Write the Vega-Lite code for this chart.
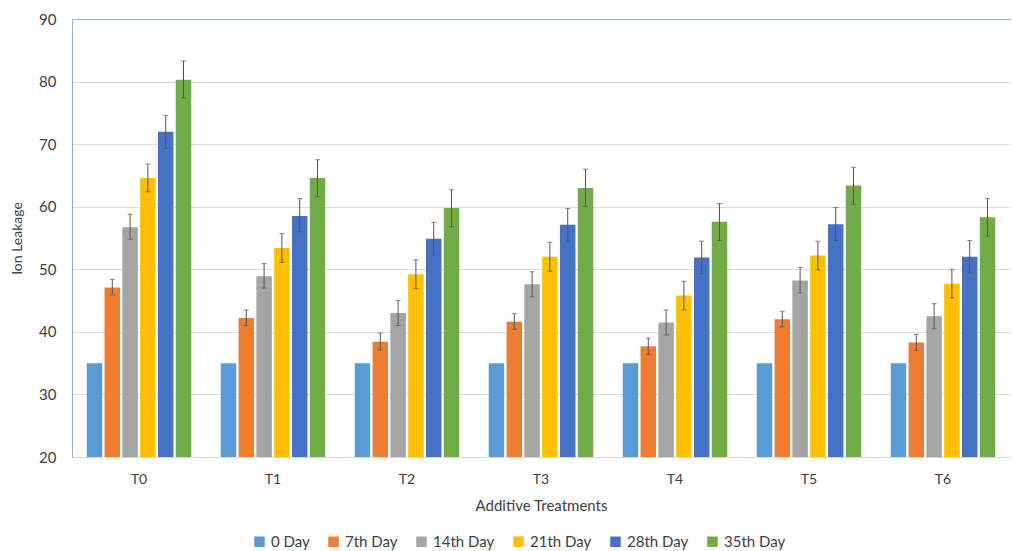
{
  "$schema": "https://vega.github.io/schema/vega-lite/v6.json",
  "width": 938,
  "height": 438,
  "autosize": {"type": "none"},
  "padding": {"left": 72, "top": 19, "right": 2, "bottom": 94},
  "background": "white",
  "config": {
    "view": {"stroke": null},
    "font": "Lato",
    "axis": {"labelFont": "Lato", "titleFont": "Lato", "labelColor": "#404040", "titleColor": "#404040", "titleFontWeight": "normal"},
    "legend": {"labelFont": "Lato"}
  },
  "data": {"values": [
    {"t":"T0","day":"0 Day","v":35,"lo":35,"hi":35},
    {"t":"T0","day":"7th Day","v":47.1,"lo":45.9,"hi":48.4},
    {"t":"T0","day":"14th Day","v":56.7,"lo":54.8,"hi":58.8},
    {"t":"T0","day":"21th Day","v":64.6,"lo":62.4,"hi":66.8},
    {"t":"T0","day":"28th Day","v":72.0,"lo":69.3,"hi":74.6},
    {"t":"T0","day":"35th Day","v":80.3,"lo":77.4,"hi":83.3},
    {"t":"T1","day":"0 Day","v":35,"lo":35,"hi":35},
    {"t":"T1","day":"7th Day","v":42.2,"lo":41.0,"hi":43.5},
    {"t":"T1","day":"14th Day","v":48.9,"lo":47.0,"hi":50.9},
    {"t":"T1","day":"21th Day","v":53.4,"lo":51.1,"hi":55.7},
    {"t":"T1","day":"28th Day","v":58.5,"lo":56.0,"hi":61.3},
    {"t":"T1","day":"35th Day","v":64.6,"lo":61.6,"hi":67.5},
    {"t":"T2","day":"0 Day","v":35,"lo":35,"hi":35},
    {"t":"T2","day":"7th Day","v":38.4,"lo":37.1,"hi":39.8},
    {"t":"T2","day":"14th Day","v":43.0,"lo":41.0,"hi":45.0},
    {"t":"T2","day":"21th Day","v":49.2,"lo":46.9,"hi":51.5},
    {"t":"T2","day":"28th Day","v":54.9,"lo":52.3,"hi":57.5},
    {"t":"T2","day":"35th Day","v":59.8,"lo":56.8,"hi":62.7},
    {"t":"T3","day":"0 Day","v":35,"lo":35,"hi":35},
    {"t":"T3","day":"7th Day","v":41.6,"lo":40.4,"hi":42.9},
    {"t":"T3","day":"14th Day","v":47.6,"lo":45.6,"hi":49.6},
    {"t":"T3","day":"21th Day","v":52.0,"lo":49.7,"hi":54.3},
    {"t":"T3","day":"28th Day","v":57.1,"lo":54.5,"hi":59.7},
    {"t":"T3","day":"35th Day","v":63.0,"lo":60.0,"hi":66.0},
    {"t":"T4","day":"0 Day","v":35,"lo":35,"hi":35},
    {"t":"T4","day":"7th Day","v":37.7,"lo":36.4,"hi":39.0},
    {"t":"T4","day":"14th Day","v":41.5,"lo":39.5,"hi":43.5},
    {"t":"T4","day":"21th Day","v":45.8,"lo":43.5,"hi":48.1},
    {"t":"T4","day":"28th Day","v":51.9,"lo":49.3,"hi":54.5},
    {"t":"T4","day":"35th Day","v":57.6,"lo":54.6,"hi":60.5},
    {"t":"T5","day":"0 Day","v":35,"lo":35,"hi":35},
    {"t":"T5","day":"7th Day","v":42.0,"lo":40.8,"hi":43.3},
    {"t":"T5","day":"14th Day","v":48.2,"lo":46.2,"hi":50.3},
    {"t":"T5","day":"21th Day","v":52.2,"lo":49.9,"hi":54.5},
    {"t":"T5","day":"28th Day","v":57.2,"lo":54.6,"hi":59.9},
    {"t":"T5","day":"35th Day","v":63.4,"lo":60.4,"hi":66.3},
    {"t":"T6","day":"0 Day","v":35,"lo":35,"hi":35},
    {"t":"T6","day":"7th Day","v":38.3,"lo":37.0,"hi":39.6},
    {"t":"T6","day":"14th Day","v":42.5,"lo":40.5,"hi":44.5},
    {"t":"T6","day":"21th Day","v":47.7,"lo":45.4,"hi":50.0},
    {"t":"T6","day":"28th Day","v":52.0,"lo":49.4,"hi":54.6},
    {"t":"T6","day":"35th Day","v":58.3,"lo":55.3,"hi":61.3}
  ]},
  "encoding": {
    "x": {
      "field": "t", "type": "nominal", "title": "Additive Treatments",
      "scale": {"paddingInner": 0.22, "paddingOuter": 0.11},
      "axis": {"labelAngle": 0, "labelFontSize": 14, "titleFontSize": 15, "domainColor": "#d9d9d9", "ticks": false, "labelPadding": 15, "titlePadding": 12}
    },
    "xOffset": {
      "field": "day", "type": "nominal",
      "sort": ["0 Day","7th Day","14th Day","21th Day","28th Day","35th Day"],
      "scale": {"paddingInner": 0.13}
    }
  },
  "layer": [
    {
      "mark": {"type": "bar", "clip": true},
      "encoding": {
        "y": {
          "field": "v", "type": "quantitative", "title": "Ion Leakage",
          "scale": {"domain": [20, 90], "zero": false, "nice": false},
          "axis": {
            "values": [20,30,40,50,60,70,80,90], "labelFontSize": 15, "titleFontSize": 14,
            "ticks": false, "labelPadding": 16, "titlePadding": 14,
            "domainColor": "#8fb0cc",
            "gridColor": {"condition": {"test": "datum.value === 90", "value": "#8fb0cc"}, "value": "#dcdcdc"}
          }
        },
        "color": {
          "field": "day", "type": "nominal", "title": null,
          "sort": ["0 Day","7th Day","14th Day","21th Day","28th Day","35th Day"],
          "scale": {"domain": ["0 Day","7th Day","14th Day","21th Day","28th Day","35th Day"], "range": ["#5B9BD5","#ED7D31","#A5A5A5","#FFC000","#4472C4","#70AD47"]},
          "legend": {"orient": "none", "legendX": 180, "legendY": 515, "direction": "horizontal", "symbolType": "square", "symbolSize": 110, "labelFontSize": 15, "labelColor": "#404040", "columnPadding": 16, "symbolStrokeWidth": 0}
        }
      }
    },
    {
      "transform": [{"filter": "datum.hi > datum.lo"}],
      "mark": {"type": "rule", "color": "#555555", "strokeWidth": 1},
      "encoding": {
        "y": {"field": "lo", "type": "quantitative"},
        "y2": {"field": "hi"}
      }
    },
    {
      "transform": [{"filter": "datum.hi > datum.lo"}],
      "mark": {"type": "tick", "color": "#555555", "thickness": 1, "size": 5},
      "encoding": {"y": {"field": "lo", "type": "quantitative"}}
    },
    {
      "transform": [{"filter": "datum.hi > datum.lo"}],
      "mark": {"type": "tick", "color": "#555555", "thickness": 1, "size": 5},
      "encoding": {"y": {"field": "hi", "type": "quantitative"}}
    }
  ]
}
